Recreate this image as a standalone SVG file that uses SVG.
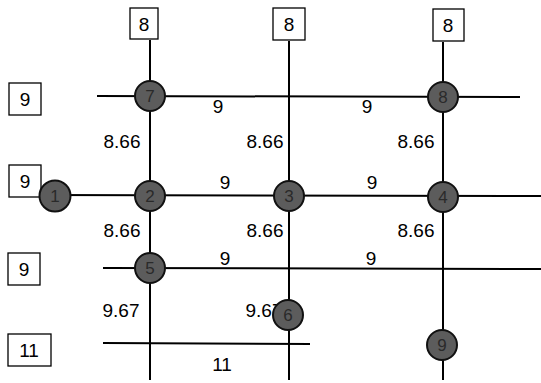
<svg xmlns="http://www.w3.org/2000/svg" width="541" height="383" viewBox="0 0 541 383">
<style>
.box{fill:#fff;stroke:#000;stroke-width:1.3}
.ln{stroke:#000;stroke-width:2;fill:none}
.nd{fill:#5c5c5c;stroke:#111;stroke-width:2}
.t{font-family:"Liberation Sans",Arial,sans-serif;font-size:19px;fill:#000;text-anchor:middle}
.nt{font-family:"Liberation Sans",Arial,sans-serif;font-size:17px;fill:#2a2a2a;text-anchor:middle}
</style>
<rect width="541" height="383" fill="#fff"/>
<g id="connectors">
<line class="ln" x1="150" y1="40" x2="150" y2="380"/>
<line class="ln" x1="289" y1="41" x2="289" y2="380"/>
<line class="ln" x1="443" y1="42" x2="443" y2="380"/>
<line class="ln" x1="97" y1="96" x2="520" y2="97"/>
<line class="ln" x1="41" y1="195" x2="541" y2="196"/>
<line class="ln" x1="103" y1="268" x2="541" y2="269"/>
<line class="ln" x1="103" y1="343" x2="310" y2="344"/>
</g>
<g id="edge-labels">
<text class="t" x="218" y="113">9</text>
<text class="t" x="367" y="113">9</text>
<text class="t" x="122" y="148">8.66</text>
<text class="t" x="265" y="148">8.66</text>
<text class="t" x="416" y="148">8.66</text>
<text class="t" x="225" y="189">9</text>
<text class="t" x="372" y="189">9</text>
<text class="t" x="122" y="237">8.66</text>
<text class="t" x="265" y="237">8.66</text>
<text class="t" x="416" y="237">8.66</text>
<text class="t" x="225" y="265">9</text>
<text class="t" x="371" y="265">9</text>
<text class="t" x="121" y="317">9.67</text>
<text class="t" x="264" y="317">9.67</text>
<text class="t" x="222" y="371">11</text>
</g>
<g id="box-top-1"><rect class="box" x="130" y="8" width="28" height="31"/><text class="t" x="144" y="31">8</text></g>
<g id="box-top-2"><rect class="box" x="273" y="8" width="32" height="32"/><text class="t" x="289" y="31">8</text></g>
<g id="box-top-3"><rect class="box" x="433" y="9" width="31" height="32"/><text class="t" x="448" y="32">8</text></g>
<g id="box-left-1"><rect class="box" x="9" y="83" width="32" height="32"/><text class="t" x="25" y="106">9</text></g>
<g id="box-left-2"><rect class="box" x="9" y="165" width="32" height="32"/><text class="t" x="25" y="188">9</text></g>
<g id="box-left-3"><rect class="box" x="8" y="253" width="32" height="32"/><text class="t" x="24" y="276">9</text></g>
<g id="box-left-4"><rect class="box" x="8" y="334" width="43" height="32"/><text class="t" x="29" y="357">11</text></g>
<g id="node-7"><circle class="nd" cx="150" cy="96" r="15"/><text class="nt" x="150" y="102">7</text></g>
<g id="node-8"><circle class="nd" cx="443" cy="97" r="15"/><text class="nt" x="443" y="103">8</text></g>
<g id="node-1"><circle class="nd" cx="55" cy="196" r="15.5"/><text class="nt" x="55" y="202">1</text></g>
<g id="node-2"><circle class="nd" cx="150" cy="196" r="15"/><text class="nt" x="150" y="202">2</text></g>
<g id="node-3"><circle class="nd" cx="289" cy="196" r="15"/><text class="nt" x="289" y="202">3</text></g>
<g id="node-4"><circle class="nd" cx="443" cy="197" r="15"/><text class="nt" x="443" y="203">4</text></g>
<g id="node-5"><circle class="nd" cx="150" cy="268" r="15"/><text class="nt" x="150" y="274">5</text></g>
<g id="node-6"><circle class="nd" cx="288" cy="315" r="15"/><text class="nt" x="288" y="321">6</text></g>
<g id="node-9"><circle class="nd" cx="442" cy="345" r="15"/><text class="nt" x="442" y="351">9</text></g>
</svg>
